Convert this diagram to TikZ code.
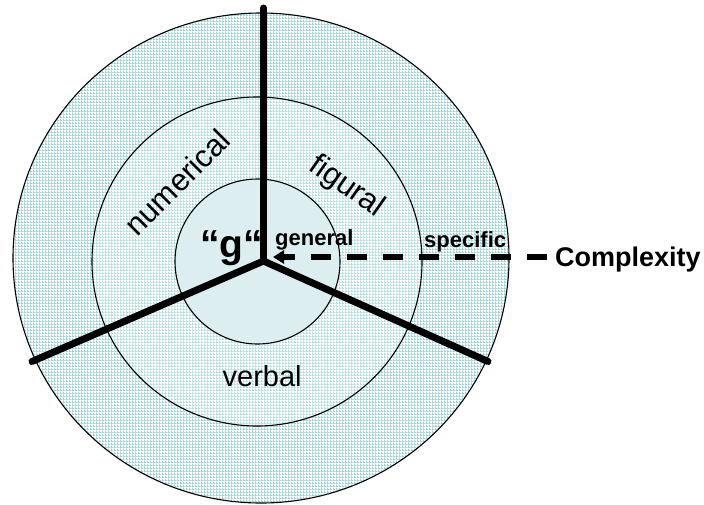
\documentclass[tikz,border=0pt]{standalone}
\usepackage{fontspec}
\setmainfont{Liberation Sans}
\usetikzlibrary{arrows.meta,patterns.meta}
\definecolor{gridc}{HTML}{9ED2D7}
\definecolor{midgrid}{HTML}{B4DDE0}
\definecolor{innerc}{HTML}{DCEEF0}
\tikzdeclarepattern{
  name=ringgrid,
  type=uncolored,
  bounding box={(0pt,0pt) and (3pt,3pt)},
  tile size={(3pt,3pt)},
  code={\draw[line width=1pt] (0pt,0.5pt) -- (3pt,0.5pt) (0.5pt,0pt) -- (0.5pt,3pt);}
}
\begin{document}
\begin{tikzpicture}[x=1pt,y=-1pt,
  spoke/.style={line width=7pt, line cap=round},
  ring/.style={line width=1.1pt},
  lbl/.style={inner sep=0pt, anchor=base west},
  bigbold/.style={font=\bfseries\fontsize{39}{41}\selectfont},
  smallbold/.style={font=\bfseries\fontsize{22}{24}\selectfont},
  sector/.style={font=\fontsize{31}{33}\selectfont, inner sep=0pt, anchor=base}]
\useasboundingbox (0,0) rectangle (704,504);
% outer ring
\fill[white] (261,258) ellipse [x radius=248, y radius=245];
\fill[pattern=ringgrid, pattern color=gridc] (261,258) ellipse [x radius=248, y radius=245];
\draw[ring] (261,258) ellipse [x radius=248, y radius=245];
% middle ring
\fill[white] (257,261.5) ellipse [x radius=165, y radius=164.5];
\fill[pattern=ringgrid, pattern color=midgrid] (257,261.5) ellipse [x radius=165, y radius=164.5];
\draw[ring] (257,261.5) ellipse [x radius=165, y radius=164.5];
% inner
\fill[innerc] (257.5,261.5) circle [radius=82.5];
\draw[ring] (257.5,261.5) circle [radius=82.5];
% spokes
\coordinate (c) at (263.5,261);
\coordinate (top) at (263.5,8);
\coordinate (lft) at (32,361.5);
\coordinate (rgt) at (488,361.5);
\draw[spoke] (top) -- (c);
\draw[spoke] (lft) -- (c) -- (rgt);
% dashed arrow
\coordinate (dstart) at (547,257);
\coordinate (tip) at (273,257);
\draw[line width=6.5pt, dash pattern=on 20pt off 16pt, -{Triangle[length=11pt,width=13pt]}] (dstart) -- (tip);
% labels
\node[lbl, bigbold] (g) at (200,257.5) {“g“};
\node[lbl, smallbold] (general) at (275,245) {general};
\node[lbl, smallbold] (specific) at (424,247) {specific};
\node[lbl, font=\bfseries\fontsize{27}{29}\selectfont] (cx) at (555,266.5) {Complexity};
\node[lbl, font=\fontsize{29}{31}\selectfont] (verbal) at (222.5,386) {verbal};
\node[sector, rotate=45] (num) at (185,190) {numerical};
\node[sector, rotate=-35] (fig) at (342,193.5) {figural};
\end{tikzpicture}
\end{document}
